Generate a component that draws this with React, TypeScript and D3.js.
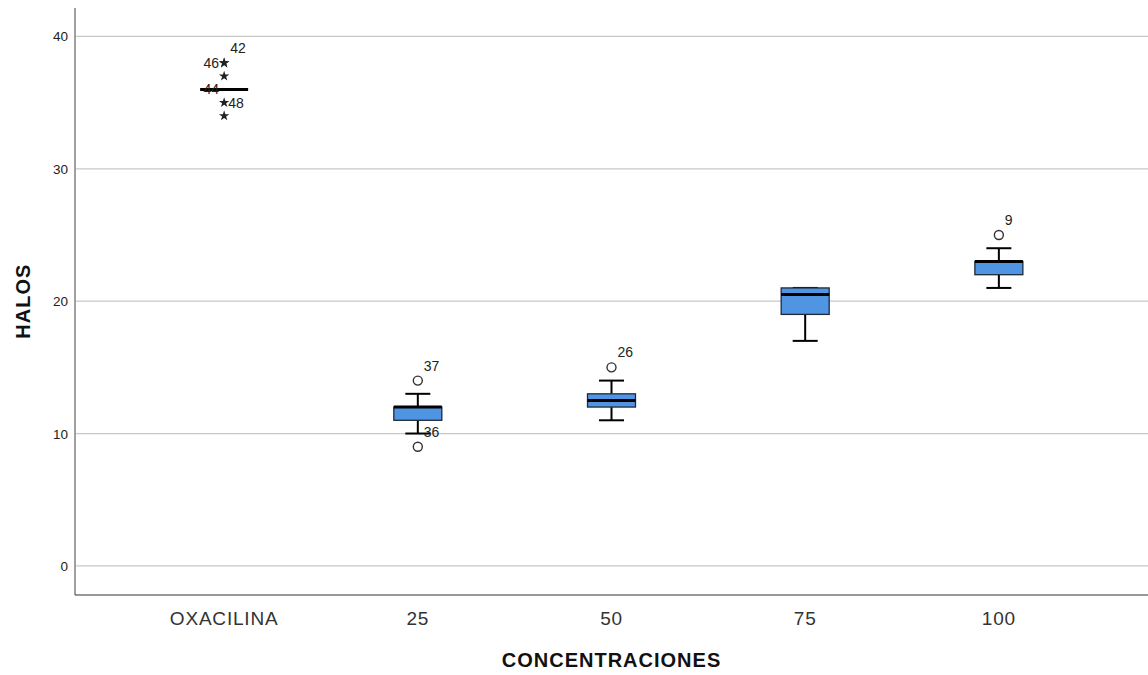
import React from 'react'
import * as d3 from 'd3'

// box plot summary per group
const categories = ['OXACILINA', '25', '50', '75', '100']
const q1 = [36, 11, 12, 19, 22]
const medians = [36, 12, 12.5, 20.5, 23]
const q3 = [36, 12, 13, 21, 23]
const whiskerLow = [36, 10, 11, 17, 21]
const whiskerHigh = [36, 13, 14, 21, 24]

// outliers: kind 'o' = circle, 'x' = extreme (star)
const outliers = [
  {cat: 'OXACILINA', value: 38, label: '46', kind: 'x', side: 'w'},
  {cat: 'OXACILINA', value: 38, label: '42', kind: 'x', side: 'ne'},
  {cat: 'OXACILINA', value: 37, label: '', kind: 'x', side: 'e'},
  {cat: 'OXACILINA', value: 36, label: '44', kind: 'none', side: 'w'},
  {cat: 'OXACILINA', value: 35, label: '48', kind: 'x', side: 'e'},
  {cat: 'OXACILINA', value: 34, label: '', kind: 'x', side: 'e'},
  {cat: '25', value: 14, label: '37', kind: 'o', side: 'ne'},
  {cat: '25', value: 9, label: '36', kind: 'o', side: 'ne'},
  {cat: '50', value: 15, label: '26', kind: 'o', side: 'ne'},
  {cat: '100', value: 25, label: '9', kind: 'o', side: 'ne'},
]

const yTicks = [0, 10, 20, 30, 40]

const W = 1148
const H = 675
const margin = {top: 8, right: 0, bottom: 80, left: 75}

export default function App() {
  const x = d3.scalePoint<string>()
    .domain(categories)
    .range([margin.left, W - margin.right])
    .padding(0.77)

  const y = d3.scaleLinear()
    .domain([-2.2, 42.15])
    .range([H - margin.bottom, margin.top])

  const boxW = 48
  const capW = 25
  const star = d3.symbol().type(d3.symbolStar).size(34)()
  const font = 'Arial, "Liberation Sans", sans-serif'

  const labelPos = (side: string, cx: number, cy: number) => {
    if (side === 'w') return {x: cx - 5, y: cy + 5, anchor: 'end'}
    if (side === 'e') return {x: cx + 4, y: cy + 5, anchor: 'start'}
    return {x: cx + 6, y: cy - 10, anchor: 'start'}
  }

  return (
    <svg width={W} height={H} style={{position: 'absolute', left: 0, top: 0, background: '#fff'}} fontFamily={font}>
      {/* grid */}
      {yTicks.map(t => (
        <g key={t}>
          <line x1={margin.left} x2={W} y1={y(t)} y2={y(t)} stroke="#c8c8c8" strokeWidth={1.3} />
          <text x={margin.left - 7} y={y(t) + 5} textAnchor="end" fontSize={13.5} fill="#222">{t}</text>
        </g>
      ))}
      {/* axes */}
      <line x1={margin.left} x2={margin.left} y1={margin.top} y2={H - margin.bottom} stroke="#a0a0a0" strokeWidth={2} />
      <line x1={margin.left} x2={W} y1={H - margin.bottom} y2={H - margin.bottom} stroke="#333" strokeWidth={1} />
      {categories.map(c => (
        <text key={c} x={x(c)} y={H - margin.bottom + 30} textAnchor="middle" fontSize={19} letterSpacing={0.8} fill="#333">{c}</text>
      ))}
      <text x={(margin.left + W) / 2} y={H - 8} textAnchor="middle" fontSize={20} letterSpacing={1} fontWeight="bold" fill="#111">CONCENTRACIONES</text>
      <text transform={`translate(30,${y(20)}) rotate(-90)`} textAnchor="middle" fontSize={20} letterSpacing={1} fontWeight="bold" fill="#111">HALOS</text>

      {/* boxes */}
      {categories.map((c, i) => {
        const cx = x(c) as number
        const collapsed = q1[i] === q3[i] && whiskerLow[i] === whiskerHigh[i]
        return (
          <g key={c}>
            {!collapsed && (
              <>
                <line x1={cx} x2={cx} y1={y(whiskerHigh[i])} y2={y(q3[i])} stroke="#000" strokeWidth={2} />
                <line x1={cx} x2={cx} y1={y(q1[i])} y2={y(whiskerLow[i])} stroke="#000" strokeWidth={2} />
                <line x1={cx - capW / 2} x2={cx + capW / 2} y1={y(whiskerHigh[i])} y2={y(whiskerHigh[i])} stroke="#000" strokeWidth={2} />
                <line x1={cx - capW / 2} x2={cx + capW / 2} y1={y(whiskerLow[i])} y2={y(whiskerLow[i])} stroke="#000" strokeWidth={2} />
                <rect x={cx - boxW / 2} y={y(q3[i])} width={boxW} height={y(q1[i]) - y(q3[i])} fill="#4f95e3" stroke="#1e2a38" strokeWidth={1.3} />
              </>
            )}
            <line x1={cx - boxW / 2} x2={cx + boxW / 2} y1={y(medians[i])} y2={y(medians[i])} stroke="#000" strokeWidth={3} />
          </g>
        )
      })}

      {/* outliers */}
      {outliers.map((o, i) => {
        const cx = x(o.cat) as number
        const cy = y(o.value)
        const lp = labelPos(o.side, cx, cy)
        return (
          <g key={i}>
            {o.kind === 'o' && <circle cx={cx} cy={cy} r={4.5} fill="none" stroke="#333" strokeWidth={1.4} />}
            {o.kind === 'x' && <path d={star as string} transform={`translate(${cx},${cy})`} fill="#222" />}
            {o.label && <text x={lp.x} y={lp.y} textAnchor={lp.anchor} fontSize={14} fill="#222">{o.label}</text>}
          </g>
        )
      })}
    </svg>
  )
}
